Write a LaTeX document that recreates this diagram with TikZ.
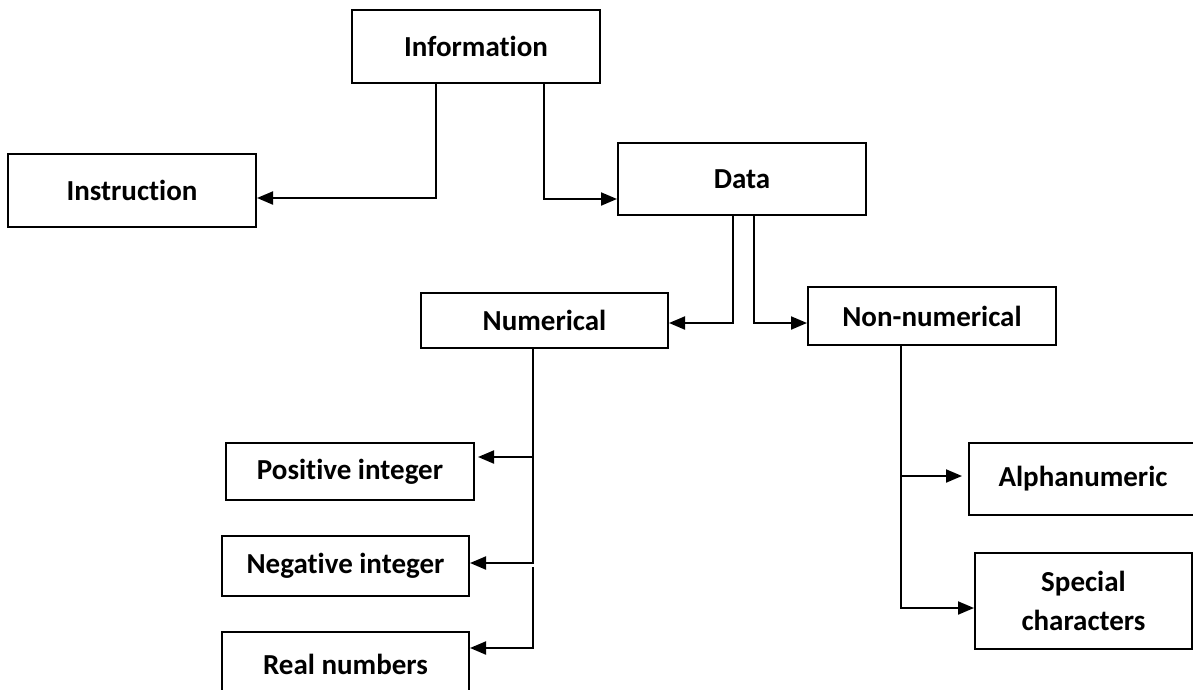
\documentclass[tikz,border=0pt]{standalone}
\usepackage{fontspec}
\setmainfont{Carlito}[Ligatures=NoCommon]
\usetikzlibrary{arrows.meta}
\begin{document}
\begin{tikzpicture}[x=1pt,y=-1pt,
  box/.style={draw=black,line width=2pt,fill=white,rectangle,inner sep=0pt,
    font=\fontsize{29}{39}\selectfont\bfseries,align=center},
  arr/.style={line width=2pt,-{Triangle[length=16pt,width=13pt]}}]
\useasboundingbox (0,0) rectangle (1193,689);
\clip (0,0) rectangle (1193,689);
% boxes
\node[box,minimum width=248pt,minimum height=73pt] (info) at (476,46.5) {Information};
\node[box,minimum width=248pt,minimum height=73pt] (instr) at (132,190.5) {Instruction};
\node[box,minimum width=248pt,minimum height=72pt] (data) at (742,179) {Data};
\node[box,minimum width=247pt,minimum height=55pt] (num) at (544.5,320.5) {Numerical};
\node[box,minimum width=248pt,minimum height=58pt] (nonnum) at (932,316) {Non-numerical};
\node[box,minimum width=248pt,minimum height=57pt] (pos) at (350,471.5) {Positive integer};
\node[box,minimum width=247pt,minimum height=60pt] (neg) at (345.5,566) {Negative integer};
\node[box,minimum width=247pt,minimum height=64pt] (real) at (345.5,664) {Real numbers};
\node[box,minimum width=228pt,minimum height=72pt] (alpha) at (1083,479) {Alphanumeric};
\node[box,minimum width=217pt,minimum height=96pt] (special) at (1083.5,601) {Special\\characters};
% connectors
\draw[arr] ([xshift=-40pt]info.south) |- ([yshift=-7.5pt]instr.east);
\draw[arr] ([xshift=68pt]info.south) |- ([yshift=-20pt]data.west);
\draw[arr] ([xshift=-9pt]data.south) |- ([yshift=-2.5pt]num.east);
\draw[arr] ([xshift=12pt]data.south) |- ([yshift=-7pt]nonnum.west);
\draw[arr,shorten >=3pt] ([xshift=-11.5pt]num.south) |- ([yshift=14.5pt]pos.east);
\draw[arr] ([xshift=-11.5pt]num.south) |- ([yshift=3pt]neg.east);
\coordinate (rtop) at (532.5,567);
\draw[arr] (rtop) |- ([yshift=16pt]real.east);
\draw[arr,shorten >=6pt] ([xshift=-31pt]nonnum.south) |- ([yshift=3pt]alpha.west);
\draw[arr] ([xshift=-31pt]nonnum.south) |- ([yshift=-7pt]special.west);
\end{tikzpicture}
\end{document}
